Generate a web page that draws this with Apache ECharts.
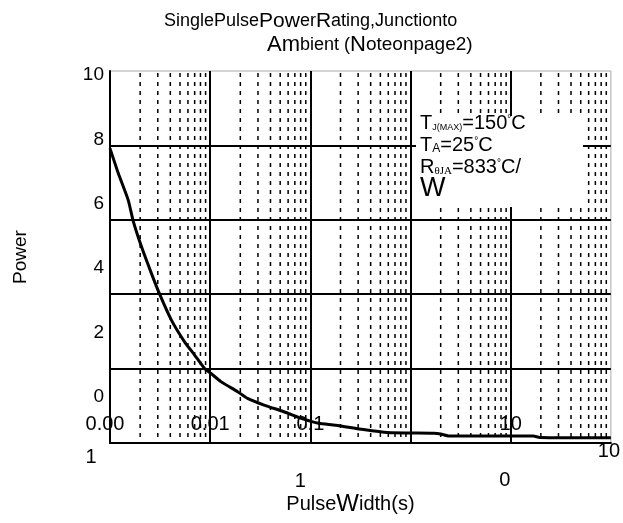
<!DOCTYPE html>
<html>
<head>
<meta charset="utf-8">
<script src="https://cdn.jsdelivr.net/npm/echarts@6/dist/echarts.min.js"></script>
<style>
  html, body { margin: 0; padding: 0; background: #fff; }
  #chart { width: 623px; height: 523px; }
</style>
</head>
<body>
<div id="chart"></div>
<script>
// Single pulse power curve: pulse width (s) against peak power
const pulseWidth = [0.001, 0.00121, 0.00152, 0.0017, 0.00206, 0.00259, 0.00313, 0.00409,
  0.00555, 0.00697, 0.00875, 0.0102, 0.0128, 0.0188, 0.0236, 0.0345, 0.0545, 0.086,
  0.121, 0.179, 0.339, 0.586, 1.71, 2.0, 2.4, 16.8, 19.5, 100];
const power = [7.92, 7.25, 6.53, 5.98, 5.28, 4.56, 4.0, 3.31,
  2.72, 2.37, 2.01, 1.87, 1.65, 1.38, 1.20, 1.02, 0.84, 0.64,
  0.53, 0.48, 0.36, 0.28, 0.26, 0.24, 0.19, 0.19, 0.15, 0.14];

// Axis ticks
const yTickValues = [0, 2, 4, 6, 8, 10];
const xTickExponents = [-3, -2, -1, 0, 1, 2];
const xTickUpper = ['0.00', '0.01', '0.1', '', '10', ''];
const xTickLower = ['1', '', '1', '', '0', '10'];

const FONT = "'Liberation Sans', Arial, sans-serif";

// dashed minor grid at 2..9 within each decade
const minorLines = [];
xTickExponents.slice(0, -1).forEach(function (e) {
  for (let m = 2; m <= 9; m++) minorLines.push([m * Math.pow(10, e), 0]);
});

function tickIndex(v) {
  return xTickExponents.indexOf(Math.round(Math.log10(v)));
}

const chart = echarts.init(document.getElementById('chart'));
chart.setOption({
  animation: false,
  backgroundColor: '#fff',
  textStyle: { fontFamily: FONT },
  title: [
    {
      left: 159, top: 6,
      text: '{s|SinglePulse}{b|Pow}{s|er}{b|R}{s|ating,Junctionto}',
      textStyle: {
        fontWeight: 'normal',
        rich: {
          s: { fontFamily: FONT, fontSize: 18, fontWeight: 'normal', color: '#000' },
          b: { fontFamily: FONT, fontSize: 21, fontWeight: 'normal', color: '#000' }
        }
      }
    },
    {
      left: 262, top: 29,
      text: '{b|Am}{s|bient (}{b|N}{m|oteonpage2)}',
      textStyle: {
        fontWeight: 'normal',
        rich: {
          s: { fontFamily: FONT, fontSize: 18, fontWeight: 'normal', color: '#000' },
          m: { fontFamily: FONT, fontSize: 19, fontWeight: 'normal', color: '#000' },
          b: { fontFamily: FONT, fontSize: 22, fontWeight: 'normal', color: '#000' }
        }
      }
    }
  ],
  grid: {
    left: 110, right: 9, top: 71, bottom: 80,
    show: true, borderColor: '#aaa', borderWidth: 1
  },
  xAxis: [
    {
      type: 'log', logBase: 10, min: 0.001, max: 100, position: 'bottom',
      axisLine: { lineStyle: { color: '#000', width: 2 } },
      axisTick: { show: false },
      splitLine: { show: true, showMinLine: false, showMaxLine: false,
        lineStyle: { color: '#000', width: 2 } },
      axisLabel: {
        inside: true, margin: 9, color: '#000', fontSize: 20, fontFamily: FONT,
        formatter: function (v) {
          const i = tickIndex(v);
          const t = xTickUpper[i] || '';
          if (!t) return '';
          return i === 0 ? '{l|' + t + '}' : t;
        },
        rich: { l: { fontSize: 20, fontFamily: FONT, color: '#000', padding: [0, 10, 0, 0] } }
      },
      name: '{a|Pulse}{b|W}{a|idth(s)}',
      nameLocation: 'middle', nameGap: 49,
      nameTextStyle: {
        padding: [0, 20, 0, 0],
        rich: {
          a: { fontFamily: FONT, fontSize: 20, color: '#000' },
          b: { fontFamily: FONT, fontSize: 24, color: '#000' }
        }
      }
    },
    {
      type: 'log', logBase: 10, min: 0.001, max: 100, position: 'bottom',
      axisLine: { show: false }, axisTick: { show: false }, splitLine: { show: false },
      axisLabel: {
        margin: -2, color: '#000', fontSize: 20, fontFamily: FONT,
        formatter: function (v) {
          const i = tickIndex(v);
          const t = xTickLower[i] || '';
          return t ? '{p' + i + '|' + t + '}' : '';
        },
        rich: {
          p0: { fontSize: 20, fontFamily: FONT, color: '#000', padding: [6, 38, 0, 0] },
          p2: { fontSize: 20, fontFamily: FONT, color: '#000', padding: [30, 20, 0, 0] },
          p4: { fontSize: 20, fontFamily: FONT, color: '#000', padding: [29, 12, 0, 0] },
          p5: { fontSize: 20, fontFamily: FONT, color: '#000', padding: [0, 4, 0, 0] }
        }
      }
    }
  ],
  yAxis: [
    {
      type: 'value', min: 0, max: 10, interval: 2, position: 'left',
      axisLine: { show: true, lineStyle: { color: '#000', width: 2 } },
      axisTick: { show: false },
      axisLabel: { show: false },
      splitLine: { show: true, showMinLine: false, showMaxLine: false,
        lineStyle: { color: '#000', width: 2 } },
      name: 'Power', nameLocation: 'middle', nameGap: 80,
      nameTextStyle: { fontFamily: FONT, fontSize: 19, color: '#000' }
    },
    {
      type: 'value', min: -1.429, max: 10.124, position: 'left',
      axisLine: { show: false }, axisTick: { show: false }, splitLine: { show: false },
      axisLabel: {
        customValues: yTickValues, margin: 6, color: '#000', fontSize: 19, fontFamily: FONT
      }
    }
  ],
  series: [
    {
      name: 'minor grid', type: 'custom', xAxisIndex: 0, yAxisIndex: 0,
      data: minorLines, silent: true, z: 1,
      renderItem: function (params, api) {
        const x = api.value(0);
        const top = api.coord([x, 10]);
        const bottom = api.coord([x, 0]);
        return {
          type: 'line',
          shape: { x1: top[0], y1: top[1] + 2, x2: bottom[0], y2: bottom[1] },
          style: { stroke: '#000', lineWidth: 1.5, lineDash: [4, 5] }
        };
      }
    },
    {
      name: 'Power', type: 'line', xAxisIndex: 0, yAxisIndex: 0,
      data: pulseWidth.map(function (x, i) { return [x, power[i]]; }),
      showSymbol: false, smooth: 0.2, z: 5,
      lineStyle: { color: '#000', width: 3 }
    }
  ],
  graphic: [
    {
      type: 'rect', left: 416, top: 116, z: 100,
      shape: { width: 167, height: 91 },
      style: { fill: '#fff' }
    },
    {
      type: 'text', left: 420, top: 113, z: 101,
      style: {
        text: '{t|T}{sub|J(MAX)}{t|=150}{deg|°}{t|C}\n' +
              '{t|T}{suba|A}{t|=25}{deg|°}{t|C}\n' +
              '{t|R}{subr|θJA}{t|=833}{deg|°}{t|C/}\n' +
              '{w|W}',
        rich: {
          t: { fontFamily: FONT, fontSize: 20, fill: '#000', lineHeight: 22 },
          sub: { fontFamily: FONT, fontSize: 9, fill: '#000', lineHeight: 22, padding: [10, 0, 0, 0] },
          suba: { fontFamily: FONT, fontSize: 12, fill: '#000', lineHeight: 22, padding: [8, 0, 0, 0] },
          subr: { fontFamily: "'Liberation Serif', serif", fontSize: 11, fill: '#000', lineHeight: 22, padding: [8, 0, 0, 0] },
          deg: { fontFamily: FONT, fontSize: 10, fill: '#000', lineHeight: 22, padding: [0, 0, 8, 0] },
          w: { fontFamily: FONT, fontSize: 27, fill: '#000', lineHeight: 22 }
        }
      }
    }
  ]
});
</script>
</body>
</html>
